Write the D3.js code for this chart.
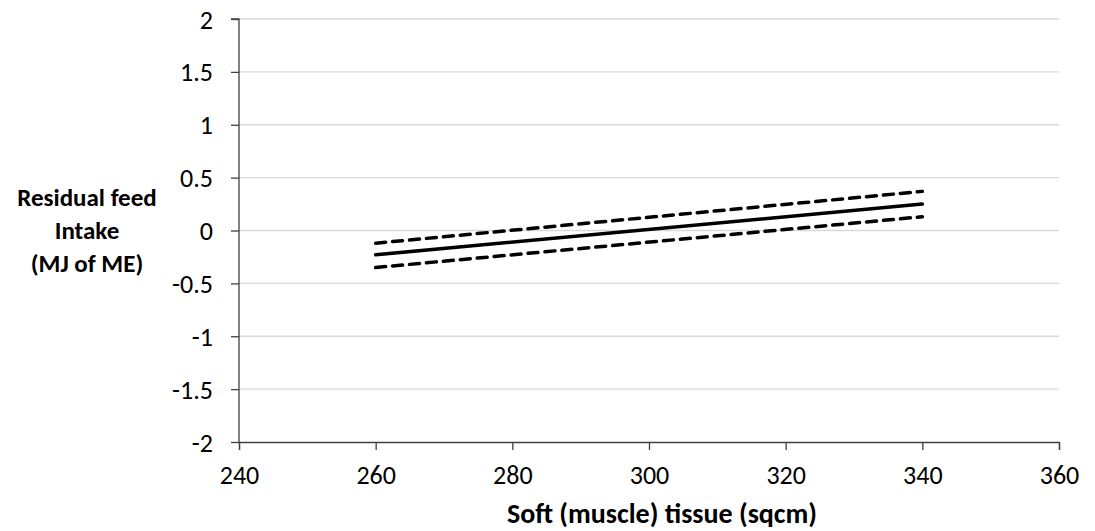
<!DOCTYPE html>
<html>
<head>
<meta charset="utf-8">
<script src="https://cdn.jsdelivr.net/npm/d3@7"></script>
<style>
  body { margin: 0; background: #fff; }
  text { font-family: Carlito, Lato, "Open Sans", sans-serif; }
</style>
</head>
<body>
<div id="chart"></div>
<script>
// tissue area (sqcm) at the ends of each line
const xValues = [260, 340];
const fitted = [-0.23, 0.25];
const upperBand = [-0.12, 0.37];
const lowerBand = [-0.35, 0.13];
const xTicks = [240, 260, 280, 300, 320, 340, 360];
const yTicks = [-2, -1.5, -1, -0.5, 0, 0.5, 1, 1.5, 2];

const width = 1095, height = 531;
const margin = {left: 239, right: 36, top: 19, bottom: 89};

const svg = d3.select("#chart")
    .append("svg")
    .attr("width", width)
    .attr("height", height);

const xScale = d3.scaleLinear()
    .domain([240, 360])
    .range([margin.left, width - margin.right]);

const yScale = d3.scaleLinear()
    .domain([-2, 2])
    .range([height - margin.bottom, margin.top]);

// horizontal gridlines
svg.selectAll("line.grid")
    .data(yTicks.filter(d => d !== -2))
    .enter()
    .append("line")
    .attr("class", "grid")
    .attr("x1", xScale(240))
    .attr("x2", xScale(360))
    .attr("y1", d => yScale(d))
    .attr("y2", d => yScale(d))
    .attr("stroke", "#d9d9d9")
    .attr("stroke-width", 1.3);

const yAxis = d3.axisLeft(yScale).tickValues(yTicks).tickSize(8).tickPadding(18).tickFormat(d => d);
const gy = svg.append("g")
    .attr("transform", `translate(${margin.left},0)`)
    .call(yAxis);

const xAxis = d3.axisBottom(xScale).tickValues(xTicks).tickSize(8).tickPadding(16);
const gx = svg.append("g")
    .attr("transform", `translate(0,${height - margin.bottom})`)
    .call(xAxis);

[gx, gy].forEach(g => {
    g.attr("font-size", null);
    g.select(".domain").attr("stroke", "#404040").attr("stroke-width", 1.3);
    g.selectAll(".tick line").attr("stroke", "#404040").attr("stroke-width", 1.3);
    g.selectAll(".tick text")
        .attr("font-size", 26)
        .attr("fill", "#000");
});
gy.selectAll(".tick text").attr("dy", "0.35em");
gy.select(".domain").attr("d", `M-8,${yScale(2)}H0V${yScale(-2)}`);

// lines
const line = d3.line()
    .x(d => xScale(d[0]))
    .y(d => yScale(d[1]));

const series = [
    {values: upperBand, dash: "10,7"},
    {values: lowerBand, dash: "10,7"},
    {values: fitted, dash: null}
];

svg.selectAll("path.series")
    .data(series)
    .enter()
    .append("path")
    .attr("class", "series")
    .attr("d", d => line(xValues.map((x, i) => [x, d.values[i]])))
    .attr("fill", "none")
    .attr("stroke", "#000")
    .attr("stroke-width", 3.5)
    .attr("stroke-linecap", "round")
    .attr("stroke-dasharray", d => d.dash);

// axis titles
svg.append("text")
    .attr("x", 662)
    .attr("y", 523)
    .attr("text-anchor", "middle")
    .attr("font-size", 28)
    .attr("font-weight", "bold")
    .text("Soft (muscle) tissue (sqcm)");

const yTitle = ["Residual feed", "Intake", "(MJ of ME)"];
svg.selectAll("text.ytitle")
    .data(yTitle)
    .enter()
    .append("text")
    .attr("class", "ytitle")
    .attr("x", 87)
    .attr("y", (d, i) => 206 + i * 33)
    .attr("text-anchor", "middle")
    .attr("font-size", 25)
    .attr("font-weight", "bold")
    .text(d => d);
</script>
</body>
</html>
